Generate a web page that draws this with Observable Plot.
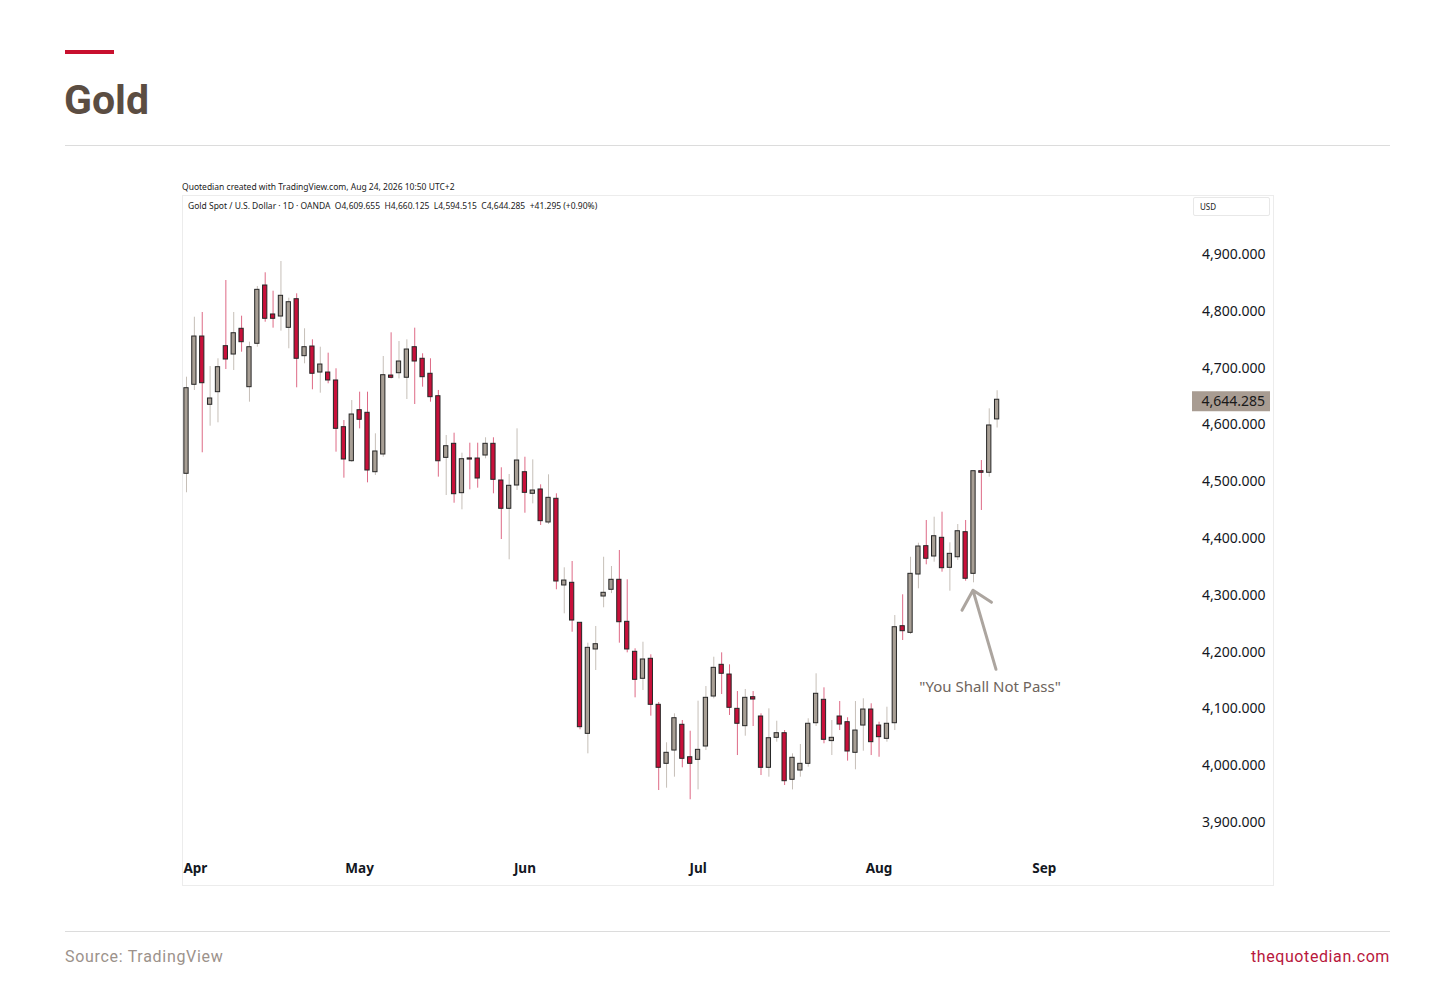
<!DOCTYPE html>
<html>
<head>
<meta charset="utf-8">
<script src="https://cdn.jsdelivr.net/npm/d3@7"></script>
<script src="https://cdn.jsdelivr.net/npm/@observablehq/plot@0.6"></script>
<style>
  html, body { margin: 0; padding: 0; background: #ffffff; }
  body { width: 1456px; height: 990px; position: relative; overflow: hidden; font-family: Roboto, "Liberation Sans", sans-serif; }
  .abs { position: absolute; white-space: nowrap; }
  #accent { left: 65px; top: 50px; width: 49px; height: 4px; background: #c8102e; }
  #title { left: 64px; top: 80px; font: 700 41px/41px Roboto, "Liberation Sans", sans-serif; color: #5b4d42; }
  .rule { left: 65px; width: 1325px; height: 1px; background: #dcdcdc; }
  #caption { left: 182px; top: 183px; font: 8.5px/8.5px "Noto Sans", sans-serif; color: #222; }
  #legend { left: 188px; top: 202px; font: 8.5px/8.5px "Noto Sans", sans-serif; color: #222; }
  #usd { left: 1193px; top: 197px; width: 77px; height: 19px; box-sizing: border-box; border: 1px solid #e8e8e8; border-radius: 2px; font: 8px/17px "Noto Sans", sans-serif; color: #222; padding-left: 6px; }
  #box { left: 182px; top: 195px; width: 1092px; height: 691px; box-sizing: border-box; border: 1px solid #ececec; pointer-events: none; }
  #chart { left: 182px; top: 195px; }
  #source { left: 65px; top: 949px; font: 16px/16px Roboto, sans-serif; letter-spacing: 0.7px; color: #9c928b; }
  #site { right: 66px; top: 949px; font: 16px/16px Roboto, sans-serif; letter-spacing: 0.6px; color: #b8173c; }
</style>
</head>
<body>
<div class="abs" id="accent"></div>
<div class="abs" id="title">Gold</div>
<div class="abs rule" style="top:145px"></div>
<div class="abs" id="caption">Quotedian created with TradingView.com, Aug 24, 2026 10:50 UTC+2</div>
<div class="abs" id="chart"></div>
<div class="abs" id="box"></div>
<div class="abs" id="legend">Gold Spot / U.S. Dollar · 1D · OANDA &nbsp;O4,609.655 &nbsp;H4,660.125 &nbsp;L4,594.515 &nbsp;C4,644.285 &nbsp;+41.295 (+0.90%)</div>
<div class="abs" id="usd">USD</div>
<div class="abs rule" style="top:931px"></div>
<div class="abs" id="source">Source: TradingView</div>
<div class="abs" id="site">thequotedian.com</div>

<script>
// Daily candles, Apr 1 – Aug 24, 2026 (trading-day index 0..103)
const open = [
  4513.9, 4670.6, 4755.6, 4635.4, 4657.6, 4738.6, 4723.9, 4769.2, 4666.4, 4742.8,
  4845.4, 4794.4, 4790.8, 4770.9, 4821.3, 4721.0, 4738.0, 4692.2, 4692.2, 4678.2,
  4596.0, 4536.1, 4625.9, 4621.3, 4516.7, 4547.9, 4686.9, 4691.0, 4683.0, 4736.8,
  4716.4, 4690.0, 4650.5, 4542.0, 4566.7, 4479.8, 4541.0, 4540.8, 4546.1, 4566.7,
  4502.1, 4452.3, 4493.3, 4516.7, 4478.7, 4486.3, 4428.2, 4469.9, 4317.3, 4322.0,
  4251.6, 4056.1, 4204.6, 4297.9, 4309.7, 4327.3, 4253.3, 4200.5, 4153.0, 4188.2,
  4107.2, 4003.3, 4026.7, 4072.0, 4014.9, 4010.3, 4033.8, 4121.8, 4177.6, 4160.5,
  4100.1, 4069.6, 4120.6, 4086.6, 3996.3, 4049.1, 4057.2, 3975.2, 3991.5, 4003.3,
  4074.8, 4116.0, 4043.3, 4086.6, 4076.6, 4022.7, 4070.7, 4098.9, 4070.7, 4047.3,
  4074.8, 4245.6, 4233.9, 4336.6, 4386.5, 4368.3, 4401.2, 4348.4, 4367.0, 4411.1,
  4337.8, 4518.5, 4515.7, 4609.655
];
const high = [
  4684.0, 4789.6, 4797.9, 4702.8, 4716.4, 4854.2, 4797.9, 4791.4, 4745.6, 4843.7,
  4867.8, 4835.4, 4887.7, 4823.1, 4830.8, 4769.2, 4749.8, 4736.8, 4726.3, 4698.8,
  4607.7, 4642.9, 4657.6, 4657.6, 4584.3, 4720.4, 4762.1, 4746.8, 4749.8, 4770.3,
  4725.2, 4716.4, 4660.6, 4581.3, 4585.4, 4550.2, 4567.8, 4567.8, 4577.3, 4577.3,
  4524.5, 4512.7, 4593.1, 4543.1, 4538.5, 4494.5, 4512.1, 4478.7, 4348.4, 4359.5,
  4251.6, 4215.7, 4245.1, 4367.0, 4350.7, 4378.9, 4327.3, 4205.8, 4217.4, 4195.2,
  4111.3, 4040.3, 4091.3, 4079.6, 4060.7, 4113.6, 4139.4, 4191.0, 4198.7, 4177.6,
  4130.6, 4134.2, 4130.6, 4091.3, 4100.1, 4078.3, 4061.9, 4020.9, 4037.3, 4082.6,
  4161.8, 4137.1, 4079.6, 4113.0, 4084.4, 4113.0, 4117.8, 4109.0, 4076.6, 4103.0,
  4264.4, 4300.9, 4367.0, 4391.7, 4431.7, 4437.5, 4446.3, 4392.4, 4424.6, 4431.7,
  4518.5, 4537.3, 4628.3, 4660.125
];
const low = [
  4480.5, 4660.6, 4550.9, 4597.7, 4603.7, 4697.5, 4695.8, 4728.0, 4640.0, 4736.8,
  4780.8, 4770.3, 4765.0, 4734.0, 4665.3, 4707.6, 4661.8, 4655.8, 4672.4, 4552.0,
  4506.2, 4534.0, 4593.0, 4498.0, 4510.9, 4543.1, 4681.0, 4681.0, 4644.7, 4635.9,
  4666.4, 4640.0, 4508.0, 4475.7, 4462.1, 4450.5, 4485.7, 4488.6, 4540.3, 4478.7,
  4398.2, 4362.5, 4484.5, 4444.5, 4461.0, 4422.9, 4424.7, 4309.7, 4267.4, 4235.0,
  4063.2, 4020.9, 4167.6, 4278.0, 4303.0, 4215.7, 4198.7, 4119.5, 4132.4, 4087.2,
  3956.3, 3960.4, 3979.8, 3996.3, 3940.0, 3957.4, 4026.7, 4117.7, 4125.3, 4088.4,
  4017.9, 4051.9, 4069.0, 3982.7, 3979.8, 4041.4, 3965.1, 3957.4, 3979.8, 3997.4,
  4069.0, 4038.6, 4017.9, 4061.9, 4008.0, 3992.8, 4025.5, 4017.9, 4014.9, 4041.4,
  4061.9, 4220.4, 4231.0, 4311.4, 4353.7, 4358.3, 4340.7, 4307.2, 4361.3, 4324.8,
  4322.0, 4449.3, 4508.0, 4594.515
];
const close = [
  4664.6, 4755.6, 4673.4, 4646.5, 4701.6, 4715.1, 4761.4, 4745.6, 4736.8, 4837.8,
  4786.8, 4786.8, 4827.3, 4816.0, 4716.4, 4736.8, 4690.0, 4706.3, 4678.2, 4593.1,
  4539.1, 4618.3, 4609.0, 4519.7, 4553.2, 4687.5, 4682.9, 4711.6, 4732.7, 4711.6,
  4684.0, 4648.8, 4536.0, 4562.5, 4478.0, 4539.6, 4539.0, 4505.6, 4566.7, 4503.3,
  4452.3, 4492.8, 4537.3, 4480.4, 4484.5, 4430.5, 4471.6, 4324.3, 4326.0, 4255.6,
  4067.8, 4207.5, 4213.9, 4304.4, 4327.3, 4252.6, 4204.6, 4151.2, 4187.0, 4107.2,
  3996.3, 4022.7, 4083.6, 4012.1, 4003.3, 4027.9, 4119.5, 4172.3, 4161.8, 4101.9,
  4073.8, 4119.5, 4116.5, 3996.3, 4048.4, 4057.2, 3972.7, 4013.9, 4003.3, 4073.8,
  4126.6, 4045.6, 4049.1, 4072.5, 4025.0, 4061.9, 4098.9, 4041.4, 4050.2, 4073.8,
  4243.8, 4236.8, 4337.8, 4385.9, 4364.3, 4404.0, 4347.7, 4373.0, 4412.8, 4329.1,
  4518.5, 4515.7, 4599.0, 4644.285
];

// Month tick labels at the first trading day of each month (trading-day index)
const monthLabels = ["Apr", "May", "Jun", "Jul", "Aug", "Sep"];
const monthIndex  = [0, 22, 43, 65, 88, 109];

// Price-axis ticks
const priceTicks = [3900, 4000, 4100, 4200, 4300, 4400, 4500, 4600, 4700, 4800, 4900];

// Annotation
const annotationText = "\"You Shall Not Pass\"";
const annotationIndex = 100;

// ---- build ----
const candles = open.map((o, i) => ({ i, o, h: high[i], l: low[i], c: close[i] }));
const months = monthLabels.map((label, k) => ({ label, i: monthIndex[k] }));
const fmt = d3.format(",.3f");

const UP_FILL = "#a89f95", DOWN_FILL = "#c8103a";
const UP_WICK = "#c6bfb8", DOWN_WICK = "#de6a86";
const OUTLINE = "#262626";
const W = 1092, H = 691;

const lastClose = close[close.length - 1];

function priceLabel(index, scales) {
  const g = d3.create("svg:g");
  const y = scales.y(lastClose) + 2;
  g.append("rect").attr("x", W - 82).attr("y", y - 10).attr("width", 78).attr("height", 20).attr("fill", "#a89c92");
  g.append("text").attr("x", W - 9).attr("y", y).attr("dy", "0.35em").attr("text-anchor", "end")
    .attr("font-family", "Noto Sans, sans-serif").attr("font-size", 14).attr("fill", "#1a1a1a").text(fmt(lastClose));
  return g.node();
}

function annotation(index, scales) {
  const g = d3.create("svg:g");
  const tx = scales.x(annotationIndex);
  const ty = scales.y(low[annotationIndex]) + 8;
  const stroke = "#aca59f";
  g.append("path")
    .attr("d", `M${tx + 23},${ty + 79}L${tx},${ty}M${tx - 11},${ty + 20}L${tx},${ty}L${tx + 18.5},${ty + 12}`)
    .attr("fill", "none").attr("stroke", stroke).attr("stroke-width", 3)
    .attr("stroke-linecap", "round").attr("stroke-linejoin", "round");
  g.append("text").attr("x", tx + 17).attr("y", ty + 102).attr("text-anchor", "middle")
    .attr("font-family", "Noto Sans, sans-serif").attr("font-size", 15).attr("fill", "#6e645c").text(annotationText);
  return g.node();
}

const chart = Plot.plot({
  width: W,
  height: H,
  marginTop: 0,
  marginLeft: 0,
  marginRight: 9,
  marginBottom: 14,
  style: { background: "transparent", overflow: "visible", fontFamily: "Noto Sans, sans-serif" },
  x: { type: "linear", domain: [0, 100], range: [4, 791], axis: null },
  y: { type: "linear", domain: [3900, 4900], range: [627, 59], axis: null },
  color: { type: "identity" },
  marks: [
    Plot.ruleX(candles, { x: "i", y1: "l", y2: "h", stroke: d => d.c >= d.o ? UP_WICK : DOWN_WICK, strokeWidth: 1 }),
    Plot.rect(candles, {
      x1: d => d.i - 0.5, x2: d => d.i + 0.5,
      y1: d => Math.min(d.o, d.c), y2: d => Math.max(d.o, d.c),
      insetLeft: 1.8, insetRight: 1.8,
      fill: d => d.c >= d.o ? UP_FILL : DOWN_FILL,
      stroke: OUTLINE, strokeWidth: 1
    }),
    Plot.text(priceTicks, { y: d => d, frameAnchor: "right", text: d => fmt(d), textAnchor: "end", fontSize: 14, fill: "#131722" }),
    Plot.text(months.slice(0, 1), { x: "i", frameAnchor: "bottom", text: "label", textAnchor: "start", dx: -3, fontSize: 13.5, fontWeight: "bold", fill: "#131722" }),
    Plot.text(months.slice(1), { x: "i", frameAnchor: "bottom", text: "label", textAnchor: "middle", fontSize: 13.5, fontWeight: "bold", fill: "#131722" }),
    priceLabel,
    annotation
  ]
});

document.getElementById("chart").appendChild(chart);
</script>
</body>
</html>
